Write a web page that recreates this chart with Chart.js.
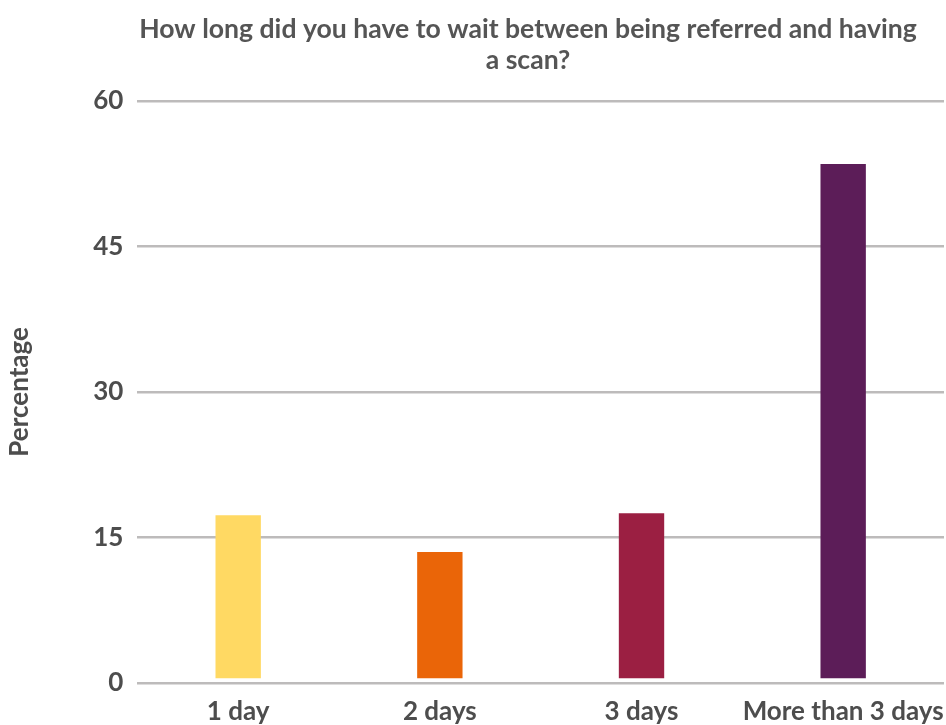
<!DOCTYPE html>
<html>
<head>
<meta charset="utf-8">
<script src="https://cdn.jsdelivr.net/npm/chart.js@4"></script>
<style>
  html, body { margin: 0; padding: 0; background: #fff; }
  #wrap { width: 946px; height: 725px; }
</style>
</head>
<body>
<div id="wrap"><canvas id="myChart"></canvas></div>
<script>
// categories and values (percent of respondents)
const categories = ["1 day", "2 days", "3 days", "More than 3 days"];
const percentages = [17.3, 13.5, 17.5, 53.5];
const barColours = ["#FFD963", "#EA6508", "#9B1F42", "#5C1D58"];
const yTicks = [0, 15, 30, 45, 60];
const titleLines = ["How long did you have to wait between being referred and having", "a scan?"];

const textColour = "#4d4d4d";

const data = {
  labels: categories,
  datasets: [{
    data: percentages,
    backgroundColor: barColours,
    borderWidth: 0,
    barPercentage: 0.225,
    categoryPercentage: 1,
    base: 0.5
  }]
};

// the title in the original sits a little left of the plot centre
const titleCentreX = 528;
const shiftTitle = {
  id: 'shiftTitle',
  afterLayout(chart) {
    const t = chart.titleBlock;
    if (!t) return;
    const d = (t.left + t.right) / 2 - titleCentreX;
    t.left -= d;
    t.right -= d;
  }
};

const config = {
  type: 'bar',
  data: data,
  plugins: [shiftTitle],
  options: {
    responsive: true,
    maintainAspectRatio: false,
    animation: false,
    layout: { padding: { top: 0, right: 2, left: 4, bottom: 0 } },
    plugins: {
      legend: { display: false },
      tooltip: { enabled: false },
      title: {
        display: true,
        text: titleLines,
        fullSize: false,
        color: "#555555",
        font: { family: "Lato", size: 26.6, weight: "bold" },
        lineHeight: 1.1,
        padding: { top: 13, bottom: 24 }
      }
    },
    scales: {
      x: {
        grid: { display: false, drawTicks: false },
        border: { display: false },
        ticks: {
          color: textColour,
          font: { family: "Lato", size: 26, weight: "bold" },
          padding: 13,
          maxRotation: 0,
          autoSkip: false
        },
        // keep the axis short and let the last label run to the edge
        afterFit(axis) {
          axis.height = 42;
          axis.paddingLeft = 0;
          axis.paddingRight = 0;
        }
      },
      y: {
        min: 0,
        max: 60,
        afterBuildTicks: (axis) => { axis.ticks = yTicks.map(v => ({ value: v })); },
        grid: { color: "#bdbbbb", lineWidth: 2.5, drawTicks: false },
        border: { display: false },
        title: {
          display: true,
          text: "Percentage",
          color: textColour,
          font: { family: "Lato", size: 26, weight: "bold" },
          padding: { top: 0, bottom: 44 }
        },
        ticks: {
          color: textColour,
          font: { family: "Lato", size: 26, weight: "bold" },
          padding: 14
        }
      }
    }
  }
};

const ctx = document.getElementById("myChart").getContext("2d");
const myChart = new Chart(ctx, config);
</script>
</body>
</html>
